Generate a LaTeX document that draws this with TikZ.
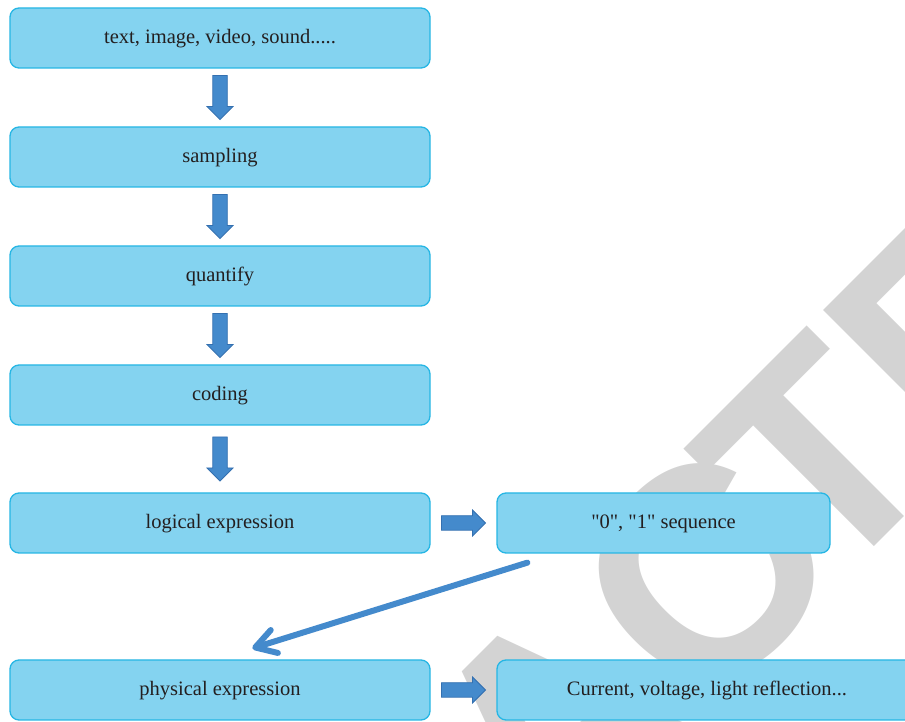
\documentclass[tikz,border=0pt]{standalone}
\usepackage{fontspec}
\newfontfamily\boxfont{Liberation Serif}
\newfontfamily\markfont{Liberation Sans}
\usetikzlibrary{calc,arrows.meta}

\definecolor{boxfill}{RGB}{132,211,240}
\definecolor{boxline}{RGB}{38,182,228}
\definecolor{arrowblue}{RGB}{68,138,204}
\definecolor{arrowedge}{RGB}{52,112,176}
\definecolor{markgray}{RGB}{211,211,211}
\definecolor{inkgray}{RGB}{35,31,32}

\begin{document}
\begin{tikzpicture}[x=1pt, y=1pt]
	\tikzset{
		stage/.style={draw=boxline, fill=boxfill, line width=1.3pt, rounded corners=9pt,
			minimum width=420pt, minimum height=60pt, inner sep=0pt,
			text=inkgray, font=\boxfont\fontsize{20.5}{24}\selectfont,
			text height=15pt, text depth=4pt},
		pics/blockarrow/.style={code={
			\draw[fill=arrowblue, draw=arrowedge, line width=0.8pt, line join=miter]
			(-22, -7.25) -- (9, -7.25) -- (9, -13) -- (22, 0) -- (9, 13) -- (9, 7.25) -- (-22, 7.25) -- cycle;
		}}
	}

	\useasboundingbox (0, 0) rectangle (905, 722);
	\clip (0, 0) rectangle (905, 722);

	% watermark
	\node[rotate=45, anchor=base west, inner sep=0pt, text=markgray,
		font=\markfont\bfseries\fontsize{296}{296}\selectfont] (stamp) at (-21.5, -721.3) {RETRAC\kern-35pt TED};

	% left column
	\node[stage] (src) at (220, 684) {text, image, video, sound.....};
	\node[stage] (samp) at (220, 565) {sampling};
	\node[stage] (quant) at (220, 446) {quantify};
	\node[stage] (enc) at (220, 327) {coding};
	\node[stage] (logic) at (220, 199) {logical expression};
	\node[stage] (phys) at (220, 32) {physical expression};

	% right column
	\node[stage, minimum width=333pt] (seq) at (663.5, 199) {"0", "1" sequence};
	\node[stage] (curr) at (707, 32) {Current, voltage, light reflection...};

	\foreach \a/\b in {src/samp, samp/quant, quant/enc, enc/logic}
		\pic[rotate=-90] at ($(\a.south)!0.5!(\b.north)$) {blockarrow};
	\foreach \a/\b in {logic/seq, phys/curr}
		\pic at ($(\a.east)!0.5!(\b.west)$) {blockarrow};

	\coordinate (jump) at ([shift={(31, -9)}]seq.south west);
	\coordinate (land) at ([shift={(243, 11)}]phys.north west);
	\draw[arrowblue, line width=6pt, line cap=round, -{Straight Barb[length=20pt, width=24pt, round]}] (jump) -- (land);
\end{tikzpicture}
\end{document}
